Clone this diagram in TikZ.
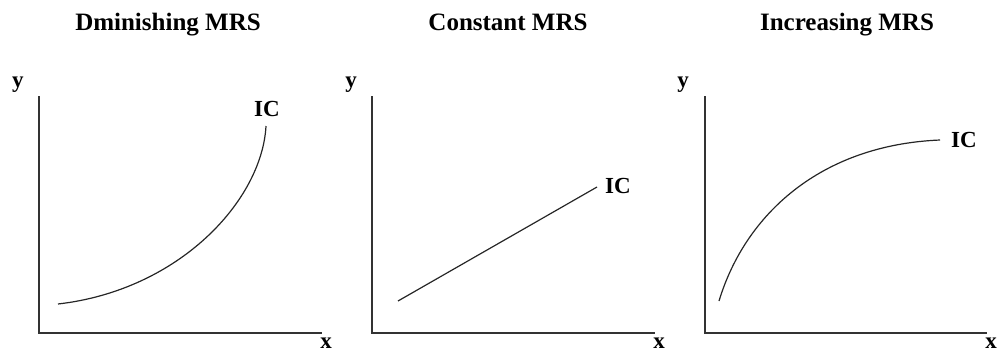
\documentclass[tikz,border=0pt]{standalone}
\usepackage{fontspec}
\setmainfont{Liberation Serif}
\usetikzlibrary{positioning,calc}

\begin{document}
\begin{tikzpicture}[
          x=1pt, y=-1pt,
          ttl/.style={font=\fontsize{25}{27}\selectfont\bfseries, anchor=base},
          lbl/.style={font=\fontsize{23}{25}\selectfont\bfseries, inner sep=0pt},
          axis/.style={draw=black!80, line width=1.6pt},
          icurve/.style={draw=black!85, line width=1.2pt}
      ]
        \useasboundingbox (0,0) rectangle (1000,354);

        % Panel 1: diminishing MRS
        \node[ttl] (t1) at (168,30) {Dminishing MRS};
        \coordinate (o1) at (39,333);
        \coordinate (y1) at (39,96);
        \coordinate (x1) at (322,333);
        \draw[axis] (y1) -- (o1) -- (x1);
        \node[lbl] (ly1) at (18,85) {y};
        \node[lbl] (lx1) at (326,343) {x};
        \coordinate (a1) at (58,304);
        \coordinate (b1) at (266,126);
        \draw[icurve] (a1) .. controls (180,290) and (262,200) .. (b1);
        \node[lbl] (ic1) at (267,109) {IC};

        % Panel 2: constant MRS
        \node[ttl] (t2) at (508,30) {Constant MRS};
        \coordinate (o2) at (372,333);
        \coordinate (y2) at (372,96);
        \coordinate (x2) at (655,333);
        \draw[axis] (y2) -- (o2) -- (x2);
        \node[lbl] (ly2) at (351,85) {y};
        \node[lbl] (lx2) at (659,343) {x};
        \coordinate (a2) at (398,301);
        \coordinate (b2) at (597,187);
        \draw[icurve] (a2) -- (b2);
        \node[lbl] (ic2) at (618,186) {IC};

        % Panel 3: increasing MRS
        \node[ttl] (t3) at (847,30) {Increasing MRS};
        \coordinate (o3) at (705,333);
        \coordinate (y3) at (705,96);
        \coordinate (x3) at (987,333);
        \draw[axis] (y3) -- (o3) -- (x3);
        \node[lbl] (ly3) at (683,85) {y};
        \node[lbl] (lx3) at (991,343) {x};
        \coordinate (a3) at (719,301);
        \coordinate (b3) at (940,140);
        \draw[icurve] (a3) .. controls (745,215) and (820,145) .. (b3);
        \node[lbl] (ic3) at (964,140) {IC};
      \end{tikzpicture}
\end{document}
